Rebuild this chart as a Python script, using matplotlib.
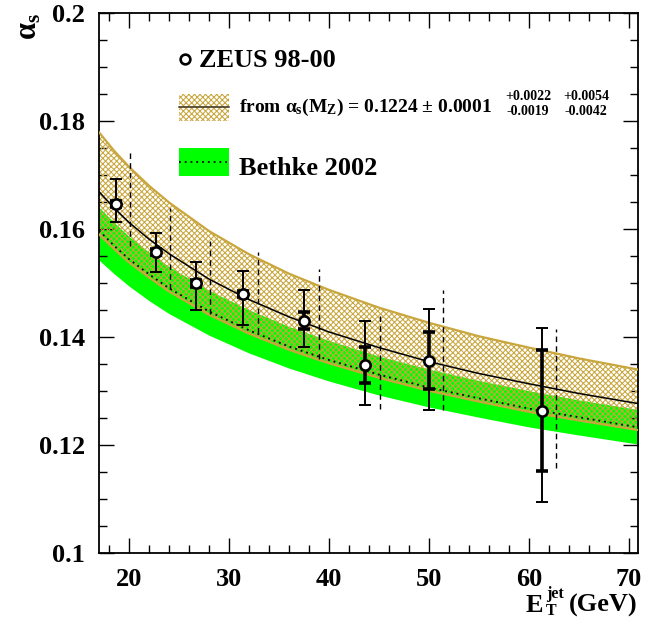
import matplotlib
matplotlib.use('Agg')
import matplotlib.pyplot as plt
from matplotlib.patches import Rectangle
from matplotlib.lines import Line2D
import numpy as np

plt.rcParams['font.family'] = ['Liberation Serif', 'DejaVu Serif']
plt.rcParams['font.weight'] = 'bold'
plt.rcParams['mathtext.fontset'] = 'custom'
plt.rcParams['mathtext.rm'] = 'Liberation Serif:bold'
plt.rcParams['mathtext.it'] = 'Liberation Serif:bold'
plt.rcParams['mathtext.bf'] = 'Liberation Serif:bold'
plt.rcParams['hatch.linewidth'] = 0.75

# ---------------- data ----------------
et = [18.7, 22.7, 26.7, 31.4, 37.5, 43.6, 50.0, 61.3]
alpha_s = [0.1646, 0.1557, 0.1499, 0.1479, 0.1430, 0.1348, 0.1356, 0.1263]
stat_hi = [0.1652, 0.1563, 0.1505, 0.1485, 0.1446, 0.1381, 0.1409, 0.1376]
stat_lo = [0.1640, 0.1551, 0.1493, 0.1473, 0.1415, 0.1315, 0.1303, 0.1151]
tot_hi = [0.1693, 0.1592, 0.1539, 0.1522, 0.1487, 0.1429, 0.1451, 0.1417]
tot_lo = [0.1613, 0.1520, 0.1449, 0.1421, 0.1381, 0.1274, 0.1264, 0.1094]
theo_hi = [0.1742, 0.1638, 0.1578, 0.1558, 0.1525, 0.1446, 0.1486, 0.1414]
theo_lo = [0.1569, 0.1488, 0.1443, 0.1407, 0.1358, 0.1266, 0.1265, 0.1157]

curve_et = [17, 18.5, 20, 22, 24, 28, 32, 36, 40, 45, 50, 55, 60, 65, 71]
zeus_central = [0.1669, 0.1639, 0.1612, 0.1581, 0.1554, 0.1507, 0.1469, 0.1437,
                0.1409, 0.1380, 0.1354, 0.1332, 0.1313, 0.1295, 0.1276]
zeus_upper = [0.1779, 0.1745, 0.1715, 0.1680, 0.1649, 0.1596, 0.1553, 0.1517,
              0.1487, 0.1454, 0.1426, 0.1401, 0.1380, 0.1360, 0.1339]
zeus_lower = [0.1590, 0.1563, 0.1538, 0.1510, 0.1484, 0.1441, 0.1406, 0.1376,
              0.1351, 0.1324, 0.1300, 0.1280, 0.1261, 0.1245, 0.1227]
bethke_central = [0.1597, 0.1569, 0.1544, 0.1516, 0.1490, 0.1447, 0.1412, 0.1382,
                  0.1357, 0.1330, 0.1306, 0.1286, 0.1267, 0.1251, 0.1232]
bethke_upper = [0.1640, 0.1612, 0.1586, 0.1557, 0.1530, 0.1486, 0.1450, 0.1419,
                0.1393, 0.1364, 0.1340, 0.1319, 0.1300, 0.1283, 0.1265]
bethke_lower = [0.1542, 0.1517, 0.1494, 0.1467, 0.1443, 0.1403, 0.1370, 0.1342,
                0.1318, 0.1292, 0.1270, 0.1251, 0.1233, 0.1218, 0.1201]

x_ticks = [20, 30, 40, 50, 60, 70]
y_ticks = [0.10, 0.12, 0.14, 0.16, 0.18, 0.20]
y_ticklabels = ['0.1', '0.12', '0.14', '0.16', '0.18', '0.2']

legend_zeus = 'ZEUS 98-00'
legend_fit = r'from $\alpha_{s}(M_{Z})$ = 0.1224 $\pm$ 0.0001'
legend_err = [['+0.0022', '-0.0019'], ['+0.0054', '-0.0042']]
legend_bethke = 'Bethke 2002'

# ---------------- style ----------------
GOLD = '#c9a73e'
GREEN = '#00ff00'
HATCH = 'xxxxxx'
W, H = 655, 630
theo_offset = 1.45

fig = plt.figure(figsize=(W / 100, H / 100), dpi=100)
ax = fig.add_axes([99 / W, 1 - 552.7 / H, (638 - 99) / W, (552.7 - 13) / H])

cx = np.array(curve_et)
ax.fill_between(cx, bethke_lower, bethke_upper, color=GREEN, lw=0, zorder=1)
ax.fill_between(cx, zeus_lower, zeus_upper, facecolor='none', edgecolor=GOLD,
                hatch=HATCH, lw=0, zorder=2)
ax.plot(cx, zeus_upper, color=GOLD, lw=1.6, zorder=3)
ax.plot(cx, zeus_lower, color=GOLD, lw=1.6, zorder=3)
ax.plot(cx, bethke_central, color='black', lw=1.3, ls=(0, (1, 2.2)), zorder=4)
ax.plot(cx, zeus_central, color='black', lw=1.1, zorder=4)

e = np.array(et)
a = np.array(alpha_s)
ax.vlines(e + theo_offset, theo_lo, theo_hi, colors='black', lw=1.0,
          linestyles=(0, (4, 3)), zorder=5)
ax.errorbar(e, a, yerr=[a - np.array(tot_lo), np.array(tot_hi) - a], fmt='none',
            ecolor='black', elinewidth=1.4, capsize=4.2, capthick=1.4, zorder=6)
ax.errorbar(e, a, yerr=[a - np.array(stat_lo), np.array(stat_hi) - a], fmt='none',
            ecolor='black', elinewidth=2.6, capsize=4.2, capthick=2.6, zorder=7)
ax.plot(e, a, 'o', mfc='white', mec='black', mew=1.9, ms=7.4, zorder=8)

ax.set_xlim(17, 70.9)
ax.set_ylim(0.1, 0.2)
ax.set_xticks(x_ticks)
ax.set_xticks(np.arange(18, 71, 2), minor=True)
ax.set_yticks(y_ticks)
ax.set_yticklabels(y_ticklabels)
ax.set_yticks(np.arange(0.1, 0.2001, 0.005), minor=True)
ax.tick_params(which='both', direction='in', top=True, right=True, width=1.0)
ax.tick_params(which='major', length=11, labelsize=19)
ax.tick_params(which='minor', length=5.5)
ax.tick_params(axis='y', which='major', pad=10)
ax.tick_params(axis='x', which='major', pad=11)
for s in ax.spines.values():
    s.set_linewidth(1.3)

def fx(px):
    return px / W

def fy(py):
    return 1 - py / H

# axis titles
fig.text(fx(29), fy(13), r'$\alpha_{s}$', rotation=90, ha='center', va='top', fontsize=22)
fig.text(fx(526), fy(612), 'E', ha='left', va='baseline', fontsize=19)
fig.text(fx(546), fy(598.5), 'jet', ha='left', va='baseline', fontsize=11.5)
fig.text(fx(546), fy(615), 'T', ha='left', va='baseline', fontsize=11.5)
fig.text(fx(638), fy(612), '(GeV)', ha='right', va='baseline', fontsize=19)

# legend
fig.lines.append(Line2D([fx(185)], [fy(59)], marker='o', mfc='white', mec='black',
                        mew=1.9, ms=7.0, transform=fig.transFigure))
fig.text(fx(199), fy(67.3), legend_zeus, ha='left', va='baseline', fontsize=19)

fig.patches.append(Rectangle((fx(179), fy(120.7)), fx(229) - fx(179), fy(94.3) - fy(120.7),
                             facecolor='none', edgecolor=GOLD, hatch=HATCH, lw=0,
                             transform=fig.transFigure))
fig.lines.append(Line2D([fx(179), fx(229)], [fy(107.3), fy(107.3)], color='#3a3020', lw=1.1,
                        transform=fig.transFigure))
fig.text(fx(239), fy(112), legend_fit, ha='left', va='baseline', fontsize=14)
for (hi, lo), xc in zip(legend_err, [528, 586]):
    fig.text(fx(xc), fy(96.7), hi, ha='center', va='center', fontsize=10)
    fig.text(fx(xc), fy(111.7), lo, ha='center', va='center', fontsize=10)

fig.patches.append(Rectangle((fx(179), fy(175.7)), fx(229) - fx(179), fy(147.7) - fy(175.7),
                             facecolor=GREEN, lw=0, transform=fig.transFigure))
fig.lines.append(Line2D([fx(179), fx(229)], [fy(161.7), fy(161.7)], color='black', lw=1.3,
                        ls=(0, (1, 2.2)), transform=fig.transFigure))
fig.text(fx(239), fy(175), legend_bethke, ha='left', va='baseline', fontsize=19)

fig.savefig('out.png', dpi=100)
